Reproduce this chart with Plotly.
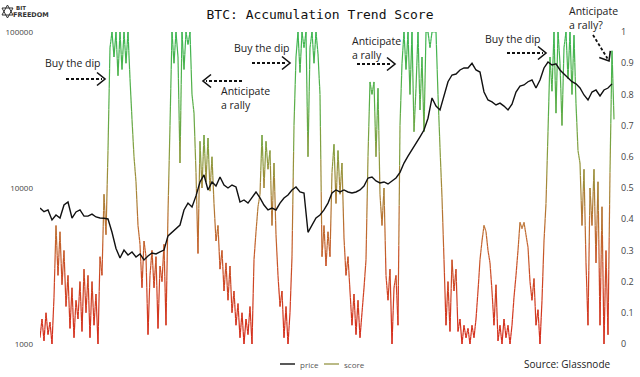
import numpy as np
import pandas as pd
import plotly.graph_objects as go

# ---------------- data ----------------
start_date = "2018-07-01"

# BTC price (USD), one reading every 10 days
price = [7440, 7050, 7230, 6240, 6710, 6420, 7780, 8130, 6420, 7020,
         7230, 6600, 6600, 6800, 6520, 6420, 6400, 6330, 5200, 4100,
         3560, 4000, 3720, 3890, 3610, 3780, 3460, 3670, 3830, 3780,
         3890, 4000, 4930, 5200, 5540, 5790, 7230, 8000, 7550, 8900,
         10930, 12120, 9710, 10930, 10300, 11760, 10450, 10000, 10450, 10150,
         8130, 8380, 8000, 8750, 9430, 8630, 7780, 7230, 7440, 7230,
         8000, 8630, 9020, 9710, 10150, 9430, 9290, 5200, 5790, 6420,
         6710, 7230, 8000, 9290, 9710, 9430, 9710, 9430, 9290, 9430,
         9710, 10300, 11590, 11760, 11090, 10770, 10930, 10610, 11090, 11590,
         12600, 14450, 16000, 17520, 19150, 21300, 23540, 28000, 37760, 33500,
         31620, 39470, 48000, 53020, 53800, 57070, 58800, 58800, 63000, 57070,
         55400, 41240, 36650, 35600, 34050, 35000, 33500, 31620, 34500, 41240,
         45000, 45750, 48000, 49240, 43750, 49240, 58800, 64230, 61430, 62500,
         57070, 53800, 50720, 48000, 46500, 43750, 39470, 36650, 41240, 42490,
         38900, 42490, 43750, 46500]

# Accumulation Trend Score, one reading every 5 days
score = [0.02, 0.08, 0.01, 0.10, 0.03, 0.07, 0.0, 0.15, 0.38, 0.22,
         0.36, 0.19, 0.30, 0.12, 0.22, 0.05, 0.18, 0.02, 0.14, 0.08,
         0.20, 0.04, 0.24, 0.10, 0.22, 0.02, 0.20, 0.06, 0.16, 0.0,
         0.28, 0.22, 0.48, 0.35, 0.62, 0.95, 1.0, 0.92, 1.0, 0.86,
         1.0, 0.88, 1.0, 0.90, 1.0, 0.85, 0.72, 0.60, 0.52, 0.38,
         0.32, 0.18, 0.33, 0.28, 0.03, 0.22, 0.30, 0.18, 0.28, 0.05,
         0.25, 0.20, 0.32, 0.06, 0.42, 0.70, 1.0, 0.90, 1.0, 0.92,
         0.58, 1.0, 0.88, 1.0, 0.96, 1.0, 0.80, 0.74, 0.55, 0.29,
         0.65, 0.50, 0.67, 0.52, 0.66, 0.49, 0.60, 0.45, 0.33, 0.38,
         0.24, 0.30, 0.17, 0.26, 0.14, 0.25, 0.10, 0.17, 0.06, 0.13,
         0.02, 0.10, 0.0, 0.08, 0.03, 0.12, 0.0, 0.27, 0.36, 0.44,
         0.48, 0.67, 0.50, 0.65, 0.56, 0.62, 0.38, 0.58, 0.35, 0.22,
         0.12, 0.17, 0.02, 0.12, 0.0, 0.10, 0.28, 0.70, 0.92, 1.0,
         0.87, 1.0, 0.95, 1.0, 0.60, 0.95, 1.0, 0.90, 1.0, 0.93,
         0.80, 0.28, 0.38, 0.25, 0.36, 0.28, 0.55, 0.64, 0.45, 0.62,
         0.48, 0.58, 0.34, 0.22, 0.28, 0.17, 0.06, 0.16, 0.03, 0.14,
         0.02, 0.10, 0.18, 0.27, 0.60, 0.84, 0.80, 0.84, 0.60, 0.82,
         0.48, 0.38, 0.50, 0.22, 0.14, 0.24, 0.0, 0.18, 0.22, 0.06,
         0.70, 0.90, 1.0, 0.88, 1.0, 0.80, 1.0, 0.68, 0.82, 1.0,
         0.75, 0.92, 0.68, 1.0, 1.0, 0.95, 1.0, 1.0, 1.0, 0.80,
         0.63, 0.47, 0.27, 0.06, 0.20, 0.04, 0.27, 0.17, 0.24, 0.04,
         0.08, 0.0, 0.06, 0.02, 0.05, 0.0, 0.06, 0.02, 0.08, 0.17,
         0.27, 0.33, 0.38, 0.36, 0.30, 0.26, 0.17, 0.06, 0.19, 0.01,
         0.06, 0.0, 0.08, 0.02, 0.06, 0.0, 0.06, 0.15, 0.22, 0.30,
         0.39, 0.37, 0.39, 0.35, 0.31, 0.20, 0.14, 0.21, 0.06, 0.11,
         0.0, 0.14, 0.33, 0.45, 0.68, 0.92, 0.81, 1.0, 0.74, 1.0,
         0.90, 0.70, 0.95, 1.0, 0.85, 1.0, 0.80, 0.99, 0.77, 0.62,
         0.58, 0.38, 0.56, 0.26, 0.06, 0.50, 0.38, 0.56, 0.26, 0.52,
         0.06, 0.44, 0.0, 0.30, 0.03, 0.55, 0.94, 0.72]

price_ticks = [1000, 10000, 100000]
price_tick_labels = ["1000", "10000", "100000"]
score_ticks = [0, 0.1, 0.2, 0.3, 0.4, 0.5, 0.6, 0.7, 0.8, 0.9, 1]
score_tick_labels = ["0", "0.1", "0.2", "0.3", "0.4", "0.5", "0.6", "0.7", "0.8", "0.9", "1"]

title_text = "BTC: Accumulation Trend Score"
source_text = "Source: Glassnode"

# ---------------- geometry helpers (decoration placement, pixels -> paper) ----------------
W, H = 640, 377
ML, MR, MT, MB = 40, 25, 32, 33
PW, PH = W - ML - MR, H - MT - MB


def fx(px):
    return (px - ML) / PW


def fy(py):
    return (H - MB - py) / PH


# ---------------- dates ----------------
t0 = pd.Timestamp(start_date)
price_dates = pd.date_range(start_date, periods=len(price), freq="10D")
score_dates = pd.date_range(start_date, periods=len(score), freq="5D")
price_days = np.asarray((price_dates - t0).days, dtype=float)
score_days = np.asarray((score_dates - t0).days, dtype=float)

# ---------------- colour scale for score ----------------
cstops = [(0.0, (214, 42, 26)), (0.2, (206, 70, 36)), (0.35, (192, 104, 46)),
          (0.5, (166, 134, 56)), (0.6, (140, 155, 62)), (0.75, (92, 174, 72)),
          (1.0, (60, 182, 82))]


def cmap(v):
    v = min(max(v, 0.0), 1.0)
    for (a, ca), (b, cb) in zip(cstops[:-1], cstops[1:]):
        if v <= b:
            f = (v - a) / (b - a) if b > a else 0
            c = [int(round(ca[k] + (cb[k] - ca[k]) * f)) for k in range(3)]
            return "rgb(%d,%d,%d)" % tuple(c)
    return "rgb(%d,%d,%d)" % cstops[-1][1]


fig = go.Figure()

# score line coloured by value (each segment split into pieces for the gradient)
NB = 40
SUB = 5
bx = [[] for _ in range(NB)]
by = [[] for _ in range(NB)]
for i in range(len(score) - 1):
    x0, x1 = score_days[i], score_days[i + 1]
    y0, y1 = score[i], score[i + 1]
    for k in range(SUB):
        a, b = k / SUB, (k + 1) / SUB
        xa, xb = x0 + (x1 - x0) * a, x0 + (x1 - x0) * b
        ya, yb = y0 + (y1 - y0) * a, y0 + (y1 - y0) * b
        m = (ya + yb) / 2
        bi = min(NB - 1, int(m * NB))
        bx[bi] += [xa, xb, None]
        by[bi] += [ya, yb, None]

for bi in range(NB):
    if not bx[bi]:
        continue
    fig.add_trace(go.Scatter(
        x=bx[bi], y=by[bi], mode="lines", yaxis="y",
        line=dict(color=cmap((bi + 0.5) / NB), width=1.2),
        hoverinfo="skip", showlegend=False))

# price line (on top)
fig.add_trace(go.Scatter(
    x=price_days, y=price, mode="lines", yaxis="y2", name="price",
    line=dict(color="#111111", width=1.4), showlegend=False))

x_end = score_days[0] + (score_days[1] - score_days[0]) * PW / 2.0

fig.update_layout(
    width=W, height=H, autosize=False,
    margin=dict(l=ML, r=MR, t=MT, b=MB, pad=0, autoexpand=False),
    paper_bgcolor="white", plot_bgcolor="white",
    showlegend=False,
    font=dict(family="Open Sans", color="#333333"),
    title=dict(text=title_text, x=0.5, xref="container", xanchor="center",
               y=1 - 14 / H, yref="container", yanchor="middle",
               font=dict(family="DejaVu Sans Mono", size=13, color="#111111")),
    xaxis=dict(range=[score_days[0], x_end], visible=False, automargin=False),
    yaxis=dict(range=[0, 1], side="right", tickvals=score_ticks, ticktext=score_tick_labels,
               showgrid=False, zeroline=False, showline=False, ticks="",
               tickfont=dict(size=9, color="#444444", family="Open Sans"),
               ticklabelstandoff=5, automargin=False),
    yaxis2=dict(type="log", range=[3, 5], side="left", overlaying="y",
                tickvals=price_ticks, ticktext=price_tick_labels,
                showgrid=False, zeroline=False, showline=False, ticks="",
                tickfont=dict(size=8, color="#444444", family="Open Sans"),
                ticklabelstandoff=6, automargin=False),
)

shapes = []
annotations = []

# annotation texts
ann_font = dict(family="Open Sans", size=10.5, color="#222222")
texts = [
    ("Buy the dip", 43, 63),
    ("Anticipate<br>a rally", 219, 98),
    ("Buy the dip", 232, 48),
    ("Anticipate<br>a rally", 350, 48),
    ("Buy the dip", 483, 39),
    ("Anticipate<br>a rally?", 567, 18),
]
for t, px, py in texts:
    annotations.append(dict(text=t, x=fx(px), y=fy(py), xref="paper", yref="paper",
                            xanchor="left", yanchor="middle", align="left",
                            showarrow=False, font=ann_font))

# dashed arrows
arrows = [((66, 79), (105, 79)), ((242, 81), (203, 81)), ((252, 63), (290, 63)),
          ((357, 64), (395, 64)), ((507, 53), (546, 53)), ((593, 35), (609, 61))]
for (sx, sy), (tx, ty) in arrows:
    dx, dy = tx - sx, ty - sy
    L = (dx * dx + dy * dy) ** 0.5
    ux, uy = dx / L, dy / L
    shapes.append(dict(type="line", xref="paper", yref="paper",
                       x0=fx(sx), y0=fy(sy), x1=fx(tx - ux * 3), y1=fy(ty - uy * 3),
                       line=dict(color="#111111", width=1.8, dash="3px,2px")))
    back, half = 8, 6.5
    ax1, ay1 = tx - ux * back - uy * half, ty - uy * back + ux * half
    ax2, ay2 = tx - ux * back + uy * half, ty - uy * back - ux * half
    path = "M %f %f L %f %f L %f %f" % (fx(ax1), fy(ay1), fx(tx), fy(ty), fx(ax2), fy(ay2))
    shapes.append(dict(type="path", xref="paper", yref="paper", path=path,
                       line=dict(color="#111111", width=1.6)))

# custom legend
leg_font = dict(family="Open Sans", size=8, color="#555555")
shapes.append(dict(type="line", xref="paper", yref="paper", x0=fx(280), x1=fx(295),
                   y0=fy(364), y1=fy(364), line=dict(color="#222222", width=1.5)))
annotations.append(dict(text="price", x=fx(298), y=fy(364), xref="paper", yref="paper",
                        xanchor="left", yanchor="middle", showarrow=False, font=leg_font))
shapes.append(dict(type="line", xref="paper", yref="paper", x0=fx(324), x1=fx(339),
                   y0=fy(364), y1=fy(364), line=dict(color="#a3a35e", width=1.5)))
annotations.append(dict(text="score", x=fx(342), y=fy(364), xref="paper", yref="paper",
                        xanchor="left", yanchor="middle", showarrow=False, font=leg_font))

# source
annotations.append(dict(text=source_text, x=fx(612), y=fy(364), xref="paper", yref="paper",
                        xanchor="right", yanchor="middle", showarrow=False,
                        font=dict(family="Open Sans", size=10, color="#222222")))

# logo
logo_col = "#333333"
shapes.append(dict(type="path", xref="paper", yref="paper",
                   path="M %f %f L %f %f L %f %f Z" % (fx(2), fy(15), fx(7.5), fy(5), fx(13), fy(15)),
                   line=dict(color=logo_col, width=1)))
shapes.append(dict(type="path", xref="paper", yref="paper",
                   path="M %f %f L %f %f L %f %f Z" % (fx(2), fy(8), fx(13), fy(8), fx(7.5), fy(18)),
                   line=dict(color=logo_col, width=1)))
annotations.append(dict(text="<b>BIT</b>", x=fx(14), y=fy(8), xref="paper", yref="paper",
                        xanchor="left", yanchor="middle", showarrow=False,
                        font=dict(family="DejaVu Sans", size=5.5, color=logo_col)))
annotations.append(dict(text="<b>FREEDOM</b>", x=fx(11), y=fy(15), xref="paper", yref="paper",
                        xanchor="left", yanchor="middle", showarrow=False,
                        font=dict(family="DejaVu Sans", size=6.5, color=logo_col)))

fig.update_layout(shapes=shapes, annotations=annotations)

fig.write_html("out.html", config={"displayModeBar": False},
               post_script="document.body.style.margin='0px';")
